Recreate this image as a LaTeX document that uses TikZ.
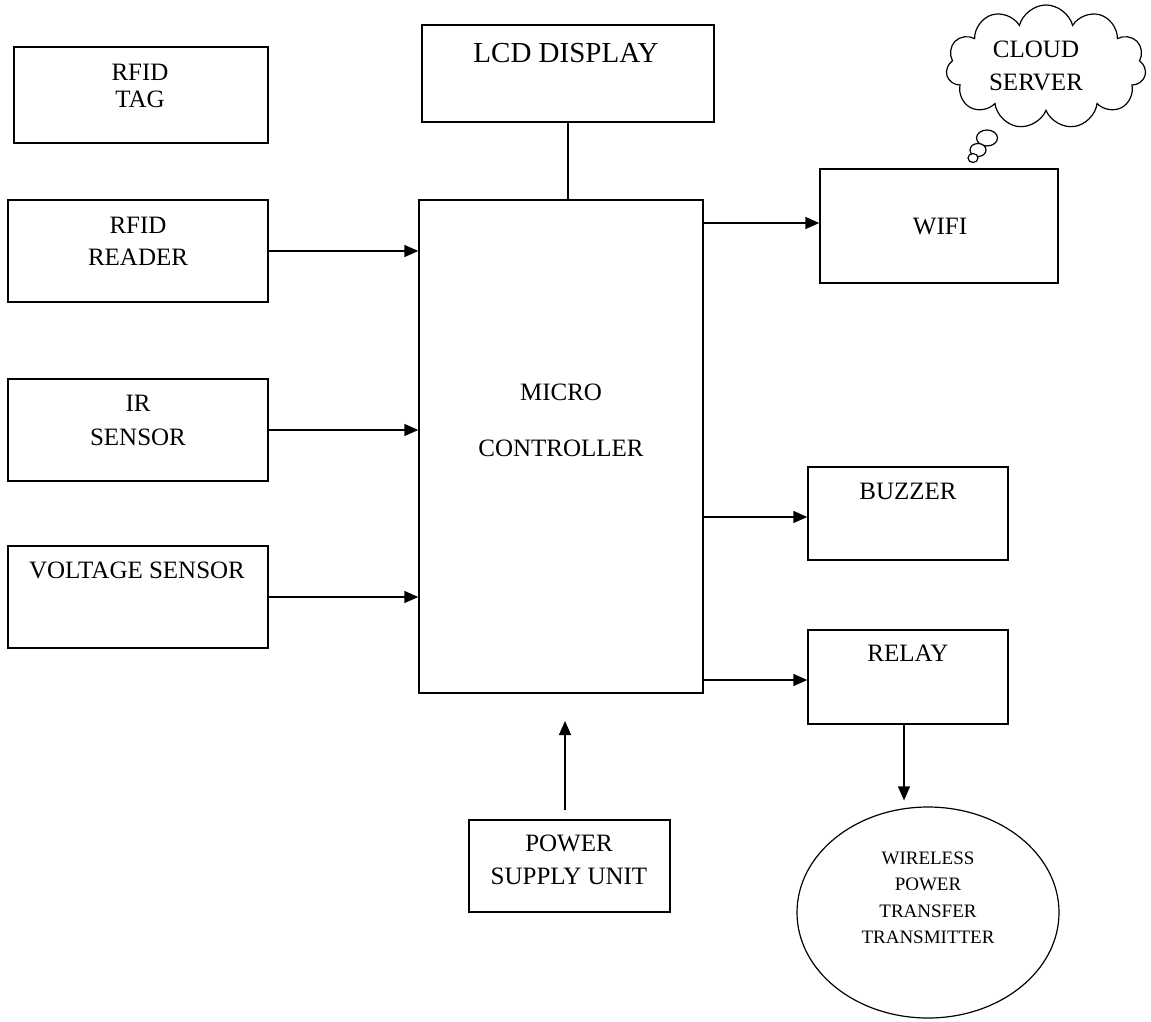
\documentclass[tikz,border=0pt]{standalone}
\usepackage{fontspec}
\setmainfont{Liberation Serif}
\usetikzlibrary{shapes.geometric,shapes.symbols,arrows.meta}
\begin{document}
\begin{tikzpicture}[x=1pt,y=-1pt,
  blk/.style={draw, line width=1.4pt, rectangle, inner sep=0pt},
  lbl/.style={inner sep=0pt, align=center, font=\fontsize{25}{32}\selectfont},
  arr/.style={line width=1.4pt, -{Triangle[length=14pt,width=12pt]}},
  conn/.style={line width=1.4pt}]
\useasboundingbox (0,0) rectangle (1151,1021);
\fill[white] (0,0) rectangle (1151,1021);
% boxes
\node[blk, minimum width=254pt, minimum height=96pt] (tag) at (141,95) {};
\node[blk, minimum width=260pt, minimum height=102pt] (reader) at (138,251) {};
\node[blk, minimum width=260pt, minimum height=102pt] (ir) at (138,430) {};
\node[blk, minimum width=260pt, minimum height=102pt] (volt) at (138,597) {};
\node[blk, line width=2pt, minimum width=292pt, minimum height=97pt] (lcd) at (568,73.5) {};
\node[blk, minimum width=284pt, minimum height=493pt] (mc) at (561,446.5) {};
\node[blk, minimum width=238pt, minimum height=114pt] (wifi) at (939,226) {};
\node[blk, minimum width=200pt, minimum height=93pt] (buzzer) at (908,513.5) {};
\node[blk, minimum width=200pt, minimum height=94pt] (relay) at (908,677) {};
\node[blk, minimum width=201pt, minimum height=92pt] (psu) at (569.5,866) {};
\node[draw, line width=1.2pt, ellipse, minimum width=262pt, minimum height=211pt, inner sep=0pt] (wpt) at (928,912.5) {};
% cloud
\node[draw, line width=1.2pt, cloud, cloud puffs=11, cloud ignores aspect, minimum width=200pt, minimum height=124pt, inner sep=0pt] (cloud) at (1046,67) {};
\node[draw, line width=1.2pt, ellipse, fill=white, minimum width=21pt, minimum height=16pt, inner sep=0pt] (b1) at (987,138) {};
\node[draw, line width=1.2pt, ellipse, fill=white, minimum width=16pt, minimum height=13pt, inner sep=0pt] (b2) at (978,150) {};
\node[draw, line width=1.2pt, ellipse, fill=white, minimum width=10pt, minimum height=9pt, inner sep=0pt] (b3) at (973,158) {};
% labels
\node[lbl, font=\fontsize{25}{27}\selectfont] (tagt) at (140,85.5) {RFID\\TAG};
\node[lbl] (readert) at (138,241) {RFID\\READER};
\node[lbl, font=\fontsize{25}{34}\selectfont] (irt) at (138,420) {IR\\SENSOR};
\node[lbl] (voltt) at (137,570) {VOLTAGE SENSOR};
\node[lbl, font=\fontsize{29}{34}\selectfont] (lcdt) at (566,53) {LCD DISPLAY};
\node[lbl, font=\fontsize{25}{56}\selectfont] (mct) at (561,420) {MICRO\\CONTROLLER};
\node[lbl] (wifit) at (940,226) {WIFI};
\node[lbl] (buzzert) at (908,491) {BUZZER};
\node[lbl] (relayt) at (908,653) {RELAY};
\node[lbl, font=\fontsize{25}{33}\selectfont] (psut) at (569,860) {POWER\\SUPPLY UNIT};
\node[lbl, font=\fontsize{19}{26.5}\selectfont] (wptt) at (928,898) {WIRELESS\\POWER\\TRANSFER\\TRANSMITTER};
\node[lbl, font=\fontsize{25}{33}\selectfont] (cloudt) at (1036,66) {CLOUD\\SERVER};
% connector end points
\coordinate (wf) at ([yshift=3pt]wifi.west);
\coordinate (bz) at ([yshift=-3.5pt]buzzer.west);
\coordinate (rl) at ([yshift=-3pt]relay.west);
\coordinate (rs) at ([xshift=-4pt]relay.south);
\coordinate (psutip) at (565,721);
\coordinate (psus) at ([xshift=-4.5pt,yshift=9pt]psu.north);
% connectors
\draw[arr] (reader.east) -- (reader.east -| mc.west);
\draw[arr] (ir.east) -- (ir.east -| mc.west);
\draw[arr] (volt.east) -- (volt.east -| mc.west);
\draw[conn] (lcd.south) -- (lcd.south |- mc.north);
\draw[arr] (mc.east |- wf) -- (wf);
\draw[arr] (mc.east |- bz) -- (bz);
\draw[arr] (mc.east |- rl) -- (rl);
\draw[arr] (psus) -- (psus |- psutip);
\draw[arr, shorten >=6pt] (rs) -- (rs |- wpt.north);
\end{tikzpicture}
\end{document}
